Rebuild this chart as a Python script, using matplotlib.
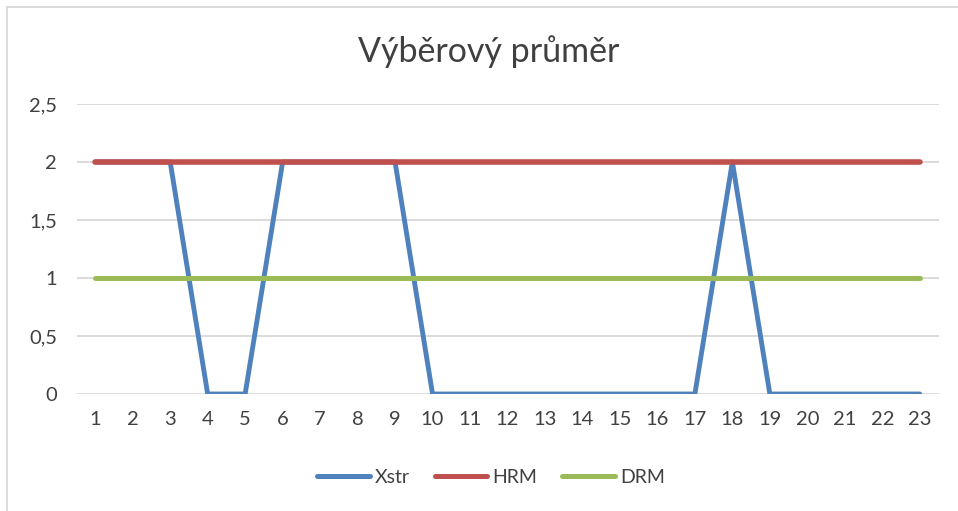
"""Výběrový průměr – line chart recreated from an Excel screenshot."""

import matplotlib
matplotlib.use("Agg")
import matplotlib.pyplot as plt
from matplotlib.lines import Line2D

# data
categories = list(range(1, 24))
xstr = [2, 2, 2, 0, 0, 2, 2, 2, 2, 0, 0, 0, 0, 0, 0, 0, 0, 2, 0, 0, 0, 0, 0]
hrm = [2] * 23
drm = [1] * 23
y_ticks = [0, 0.5, 1, 1.5, 2, 2.5]
y_labels = ["0", "0,5", "1", "1,5", "2", "2,5"]

plt.rcParams["font.family"] = ["Lato", "DejaVu Sans"]
text_color = "#404040"

fig = plt.figure(figsize=(9.58, 5.11), dpi=100)
ax = fig.add_axes([76.5 / 958, 1 - 394 / 511, 862 / 958, 290 / 511])

ax.plot(categories, xstr, color="#4f81bd", lw=3.5, solid_capstyle="round",
        solid_joinstyle="round", label="Xstr", zorder=3)
ax.plot(categories, hrm, color="#c0504d", lw=4.0, solid_capstyle="round",
        label="HRM", zorder=4)
ax.plot(categories, drm, color="#9bbb59", lw=3.6, solid_capstyle="round",
        label="DRM", zorder=5)

ax.set_xlim(0.5, 23.5)
ax.set_ylim(0, 2.5)
ax.set_xticks(categories)
ax.set_xticklabels([str(c) for c in categories])
ax.set_yticks(y_ticks)
ax.set_yticklabels(y_labels)
ax.tick_params(length=0, labelsize=14.5, colors=text_color)
ax.tick_params(axis="x", pad=12)
ax.tick_params(axis="y", pad=14)
ax.grid(axis="y", color="#d9d9d9", lw=1.3)
ax.set_axisbelow(True)
for s in ax.spines.values():
    s.set_visible(False)

fig.text(489 / 958, 1 - 52 / 511, "Výběrový průměr", ha="center", va="center",
         fontsize=24.5, color=text_color)

handles = [Line2D([], [], color=c, lw=3.6, solid_capstyle="round")
           for c in ("#4f81bd", "#c0504d", "#9bbb59")]
fig.legend(handles, ["Xstr", "HRM", "DRM"], loc="center",
           bbox_to_anchor=(491 / 958, 1 - 477 / 511), ncol=3, frameon=False,
           fontsize=14, handlelength=2.7, handletextpad=0.25,
           columnspacing=1.3, labelcolor=text_color)

# chart area border (left and top edges visible)
fig.add_artist(Line2D([7 / 958, 7 / 958], [0, 1 - 7 / 511], color="#d9d9d9",
                      lw=1.3, transform=fig.transFigure))
fig.add_artist(Line2D([7 / 958, 1], [1 - 7 / 511, 1 - 7 / 511], color="#d9d9d9",
                      lw=1.3, transform=fig.transFigure))

fig.savefig("out.png", dpi=100)
plt.close(fig)
